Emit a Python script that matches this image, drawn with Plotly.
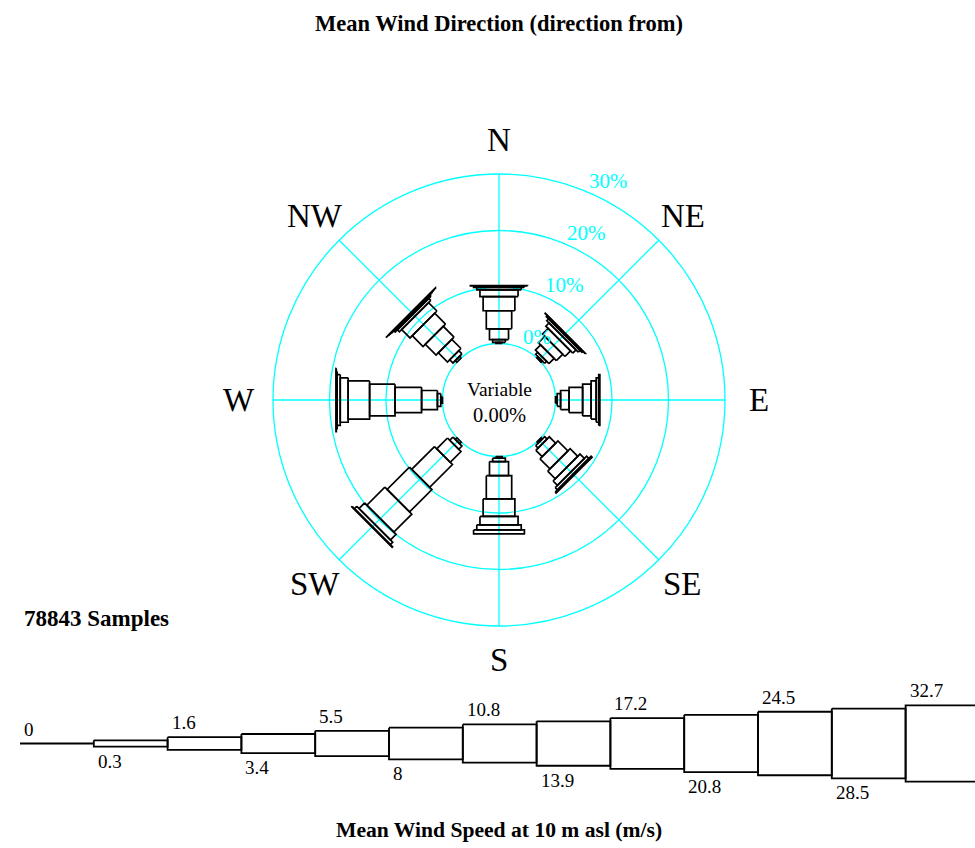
import numpy as np
import plotly.graph_objects as go

# ---------------- data ----------------
DIRECTIONS = ["N", "NE", "E", "SE", "S", "SW", "W", "NW"]
DIR_ANGLES = [0, 45, 90, 135, 180, 225, 270, 315]
SPEED_BOUNDS = ["0", "0.3", "1.6", "3.4", "5.5", "8", "10.8", "13.9",
                "17.2", "20.8", "24.5", "28.5", "32.7"]
# frequency (%) per speed class (13 classes: 0-0.3, 0.3-1.6, ..., >32.7)
FREQ_N = [0, 0.2, 0.5, 1.9, 3.2, 2.5, 1.2, 0.45, 0.25, 0.05, 0, 0, 0]
FREQ_NE = [0, 0.3, 0.5, 1.3, 1.6, 1.4, 0.8, 0.45, 0.25, 0.05, 0, 0, 0]
FREQ_E = [0, 0.3, 0.6, 1.5, 2.4, 1.5, 0.9, 0.45, 0.2, 0, 0, 0, 0]
FREQ_SE = [0, 0.3, 0.6, 1.6, 2.5, 1.9, 1.1, 0.55, 0.25, 0, 0, 0, 0]
FREQ_S = [0, 0.3, 0.6, 2.5, 4.1, 3.1, 1.5, 0.9, 0.7, 0, 0, 0, 0]
FREQ_SW = [0, 0.4, 0.8, 2.7, 5.7, 5.6, 4.5, 1.4, 0.6, 0.1, 0, 0, 0]
FREQ_W = [0, 0.3, 0.6, 2.8, 4.7, 4.5, 3.8, 1.4, 0.55, 0.15, 0.05, 0, 0]
FREQ_NW = [0, 0.4, 0.8, 2.3, 2.7, 2.7, 2.1, 0.5, 0.3, 0.1, 0.05, 0.03, 0]
RING_PCTS = [0, 10, 20, 30]
SAMPLES = 78843
VARIABLE_PCT = 0.00

FREQS = [FREQ_N, FREQ_NE, FREQ_E, FREQ_SE, FREQ_S, FREQ_SW, FREQ_W, FREQ_NW]

# ---------------- geometry / style ----------------
W, H = 975, 848
CX, CY = 499, 400          # rose centre in figure pixels
PX = 5.65                  # pixels per percent
R0 = 10.0                  # radius (in % units) of the 0 % ring
W_STEP = 6.35              # class width step, pixels
LEG_X0, LEG_STEP, LEG_Y = 20, 73.8, 743.5
FONT = "Liberation Serif"
CYAN = "#00FFFF"
LW = 1.7

fig = go.Figure()

# grid: radial spokes
gx, gy = [], []
for a in DIR_ANGLES:
    t = np.radians(a)
    r_in, r_out = R0 + RING_PCTS[0], R0 + RING_PCTS[-1]
    gx += [r_in * np.sin(t), r_out * np.sin(t), None]
    gy += [r_in * np.cos(t), r_out * np.cos(t), None]
fig.add_trace(go.Scatter(x=gx, y=gy, mode="lines", line=dict(color=CYAN, width=1.3),
                         hoverinfo="skip"))
# rings
shapes = []
for p in RING_PCTS:
    r = R0 + p
    shapes.append(dict(type="circle", xref="x", yref="y", x0=-r, y0=-r, x1=r, y1=r,
                       line=dict(color=CYAN, width=1.3), layer="below"))

# rose bars
for a, fr in zip(DIR_ANGLES, FREQS):
    t = np.radians(a)
    ux, uy = np.sin(t), np.cos(t)
    px_, py_ = np.cos(t), -np.sin(t)
    xs, ys = [], []
    r = R0
    for k, f in enumerate(fr):
        if f <= 0:
            continue
        h = W_STEP * k / PX / 2
        r1 = r + f
        pts = [(r, h), (r1, h), (r1, -h), (r, -h), (r, h)]
        for rr, hh in pts:
            xs.append(rr * ux + hh * px_)
            ys.append(rr * uy + hh * py_)
        xs.append(None); ys.append(None)
        r = r1
    fig.add_trace(go.Scatter(x=xs, y=ys, mode="lines", line=dict(color="black", width=LW),
                             hoverinfo="skip"))

# legend (speed class scale); the last, open-ended class runs off the page
nb = len(SPEED_BOUNDS)
lx, ly = [], []
for k in range(nb):
    h = W_STEP * k / 2
    b0, b1 = k, k + 1
    if h == 0:
        lx += [b0, b1, None]; ly += [0, 0, None]
    elif k == nb - 1:
        lx += [b1 + 1, b0, b0, b1 + 1, None]
        ly += [h, h, -h, -h, None]
    else:
        lx += [b0, b1, b1, b0, b0, None]
        ly += [h, h, -h, -h, h, None]
fig.add_trace(go.Scatter(x=lx, y=ly, mode="lines", xaxis="x2", yaxis="y2",
                         line=dict(color="black", width=1.8), hoverinfo="skip"))

ann = []
for k, lab in enumerate(SPEED_BOUNDS):
    h = W_STEP * k / 2
    if k % 2 == 0:
        ann.append(dict(x=k, y=h + 2, xref="x2", yref="y2", text=lab, showarrow=False,
                        xanchor="left", yanchor="bottom", xshift=2,
                        font=dict(family=FONT, size=19, color="black")))
    else:
        ann.append(dict(x=k, y=-h - 2, xref="x2", yref="y2", text=lab, showarrow=False,
                        xanchor="left", yanchor="top", xshift=2,
                        font=dict(family=FONT, size=19, color="black")))

# direction labels
for d, a in zip(DIRECTIONS, DIR_ANGLES):
    t = np.radians(a)
    rr = 260 / PX
    ann.append(dict(x=rr * np.sin(t), y=rr * np.cos(t), xref="x", yref="y", text=d,
                    showarrow=False, xanchor="center", yanchor="middle",
                    font=dict(family=FONT, size=33, color="black")))

# ring labels
la = np.radians(23)
for p in RING_PCTS:
    r = R0 + p
    ann.append(dict(x=r * np.sin(la), y=r * np.cos(la), xref="x", yref="y",
                    text=f"{p}%", showarrow=False, xanchor="left", yanchor="bottom",
                    yshift=-3, font=dict(family=FONT, size=21, color=CYAN)))

# centre text
ann.append(dict(x=0, y=11 / PX, xref="x", yref="y", text="Variable", showarrow=False,
                xanchor="center", yanchor="middle",
                font=dict(family=FONT, size=19.5, color="black")))
ann.append(dict(x=0, y=-15 / PX, xref="x", yref="y", text=f"{VARIABLE_PCT:.2f}%",
                showarrow=False, xanchor="center", yanchor="middle",
                font=dict(family=FONT, size=20.5, color="black")))

# titles
ann.append(dict(x=CX / W, y=1 - 23 / H, xref="paper", yref="paper",
                xanchor="center", yanchor="middle",
                text="<b>Mean Wind Direction (direction from)</b>", showarrow=False,
                font=dict(family=FONT, size=22.5, color="black")))
ann.append(dict(x=22 / W, y=1 - 618 / H, xref="paper", yref="paper",
                xanchor="left", yanchor="middle",
                text=f"<b>{SAMPLES} Samples</b>", showarrow=False,
                font=dict(family=FONT, size=23, color="black")))
ann.append(dict(x=CX / W, y=1 - 830 / H, xref="paper", yref="paper",
                xanchor="center", yanchor="middle",
                text="<b>Mean Wind Speed at 10 m asl (m/s)</b>", showarrow=False,
                font=dict(family=FONT, size=21.6, color="black")))

fig.update_layout(
    width=W, height=H, margin=dict(l=0, r=0, t=0, b=0),
    paper_bgcolor="white", plot_bgcolor="white", showlegend=False,
    shapes=shapes, annotations=ann,
    xaxis=dict(range=[-CX / PX, (W - CX) / PX], visible=False, domain=[0, 1]),
    yaxis=dict(range=[-(H - CY) / PX, CY / PX], visible=False, domain=[0, 1]),
    xaxis2=dict(range=[-LEG_X0 / LEG_STEP, (W - LEG_X0) / LEG_STEP], visible=False,
                overlaying="x", anchor="y2"),
    yaxis2=dict(range=[-(H - LEG_Y), LEG_Y], visible=False, overlaying="y", anchor="x2"),
)

fig.write_html("out.html", config={"displayModeBar": False},
               post_script="document.body.style.margin='0';"
                           "document.body.style.overflow='hidden';")
